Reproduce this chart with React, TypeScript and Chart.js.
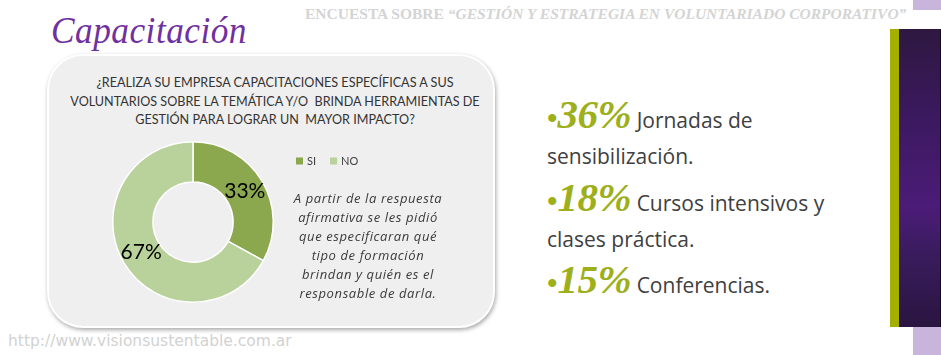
import React, { useEffect, useRef } from "react";
import { Chart, registerables } from "chart.js";

Chart.register(...registerables);

const categories = ["SI", "NO"];
const values = [33, 67];
const colors = ["#8BA84E", "#B9D19A"];
const questionLines = [
  "¿REALIZA SU EMPRESA CAPACITACIONES ESPECÍFICAS A SUS",
  "VOLUNTARIOS SOBRE LA TEMÁTICA Y/O  BRINDA HERRAMIENTAS DE",
  "GESTIÓN PARA LOGRAR UN  MAYOR IMPACTO?",
];
const noteLines = [
  "A partir de la respuesta",
  "afirmativa se les pidió",
  "que especificaran qué",
  "tipo de formación",
  "brindan y quién es el",
  "responsable de darla.",
];
const stats = [
  { pct: "36%", first: "Jornadas de", second: "sensibilización." },
  { pct: "18%", first: "Cursos intensivos y", second: "clases práctica." },
  { pct: "15%", first: "Conferencias.", second: "" },
];

const labelPlugin = {
  id: "sliceLabels",
  afterDatasetsDraw(chart: any) {
    const ctx = chart.ctx;
    const meta = chart.getDatasetMeta(0);
    const data = chart.data.datasets[0].data as number[];
    ctx.save();
    ctx.font = "21px Lato, 'Open Sans', sans-serif";
    ctx.fillStyle = "#000";
    ctx.textAlign = "center";
    ctx.textBaseline = "middle";
    meta.data.forEach((arc: any, i: number) => {
      const p = arc.tooltipPosition();
      ctx.fillText(data[i] + "%", p.x, p.y);
    });
    ctx.restore();
  },
};

const legendPlugin = {
  id: "inlineLegend",
  afterDraw(chart: any) {
    const ctx = chart.ctx;
    const labels = chart.data.labels as string[];
    const bg = chart.data.datasets[0].backgroundColor as string[];
    ctx.save();
    ctx.font = "11px Lato, 'Open Sans', sans-serif";
    ctx.textBaseline = "middle";
    let x = 196;
    const y = 31;
    labels.forEach((l, i) => {
      ctx.fillStyle = bg[i];
      ctx.fillRect(x, y - 3.5, 7, 7);
      ctx.fillStyle = "#404040";
      ctx.fillText(l, x + 11, y);
      x += 11 + ctx.measureText(l).width + 14;
    });
    ctx.restore();
  },
};

function Donut() {
  const ref = useRef<HTMLCanvasElement>(null);
  useEffect(() => {
    if (!ref.current) return;
    const chart = new Chart(ref.current, {
      type: "doughnut",
      data: {
        labels: categories,
        datasets: [
          {
            data: values,
            backgroundColor: colors,
            borderColor: "#ffffff",
            borderWidth: 1.5,
          },
        ],
      },
      options: {
        responsive: false,
        animation: false,
        cutout: "50%",
        layout: { padding: { left: 12, right: 106, top: 11, bottom: 17 } },
        plugins: { legend: { display: false }, tooltip: { enabled: false } },
      },
      plugins: [labelPlugin, legendPlugin],
    });
    return () => chart.destroy();
  }, []);
  return (
    <canvas
      ref={ref}
      width={280}
      height={190}
      style={{ position: "absolute", left: 100, top: 130, width: 280, height: 190 }}
    />
  );
}

export default function App() {
  return (
    <div
      style={{
        position: "fixed",
        left: 0,
        top: 0,
        width: 941,
        height: 355,
        background: "#fff",
        overflow: "hidden",
      }}
    >
      {/* header */}
      <div
        style={{
          position: "absolute",
          left: 305,
          top: 5,
          whiteSpace: "nowrap",
          font: "bold 15.5px 'Liberation Serif', serif",
          color: "#d4d4d4",
        }}
      >
        ENCUESTA SOBRE <i>“GESTIÓN Y ESTRATEGIA EN VOLUNTARIADO CORPORATIVO”</i>
      </div>
      {/* title */}
      <div
        style={{
          position: "absolute",
          left: 51,
          top: 8,
          whiteSpace: "nowrap",
          font: "italic 38px 'Liberation Serif', serif",
          color: "#7030A0",
          transform: "scaleX(0.93)",
          transformOrigin: "left top",
          letterSpacing: 0.5,
        }}
      >
        Capacitación
      </div>
      {/* right bars */}
      <div style={{ position: "absolute", left: 913, top: 0, width: 28, height: 10, background: "#C9B5DB" }} />
      <div style={{ position: "absolute", left: 913, top: 327, width: 28, height: 28, background: "#C9B5DB" }} />
      <div style={{ position: "absolute", left: 890, top: 29, width: 9, height: 298, background: "#A5AF00" }} />
      <div
        style={{
          position: "absolute",
          left: 899,
          top: 29,
          width: 41,
          height: 298,
          background: "linear-gradient(180deg, #2E1840 0%, #3C1960 30%, #4B1C78 60%, #3A1C5E 75%, #2A1540 100%)",
          borderRight: "1px solid #150a20",
        }}
      />
      {/* panel */}
      <div
        style={{
          position: "absolute",
          left: 47,
          top: 54,
          width: 444,
          height: 270,
          background: "#EFEFEF",
          border: "2px solid #ffffff",
          borderRadius: 36,
          boxShadow: "1px 2px 4px rgba(0,0,0,0.35)",
        }}
      />
      <div
        style={{
          position: "absolute",
          left: 50,
          top: 74,
          width: 450,
          textAlign: "center",
          font: "12.6px Lato, 'Open Sans', sans-serif",
          lineHeight: "18.5px",
          color: "#333",
          whiteSpace: "pre",
        }}
      >
        {questionLines.join("\n")}
      </div>
      <Donut />
      <div
        style={{
          position: "absolute",
          left: 268,
          top: 189,
          width: 200,
          textAlign: "center",
          font: "italic 13px 'Open Sans', sans-serif",
          lineHeight: "19px",
          letterSpacing: 0.6,
          color: "#3a3a3a",
          whiteSpace: "pre",
        }}
      >
        {noteLines.join("\n")}
      </div>
      {/* stats */}
      {stats.map((s, i) => {
        const tops = [90, 173, 255];
        return (
          <div
            key={i}
            style={{
              position: "absolute",
              left: 547,
              top: tops[i],
              width: 330,
              font: "21px 'Open Sans', sans-serif",
              color: "#404040",
              lineHeight: "36px",
              whiteSpace: "nowrap",
            }}
          >
            <span style={{ font: "bold 30px 'Liberation Serif', serif", color: "#9DB01C" }}>•</span>
            <span
              style={{
                font: "bold italic 41px 'Liberation Serif', serif",
                color: "#9DB01C",
                letterSpacing: -0.5,
              }}
            >
              {s.pct}
            </span>{" "}
            {s.first}
            {s.second ? (
              <>
                <br />
                {s.second}
              </>
            ) : null}
          </div>
        );
      })}
      <div
        style={{
          position: "absolute",
          left: 8,
          top: 332,
          whiteSpace: "nowrap",
          font: "15.5px 'DejaVu Sans', sans-serif",
          color: "#D2D2D2",
        }}
      >
        http://www.visionsustentable.com.ar
      </div>
    </div>
  );
}
